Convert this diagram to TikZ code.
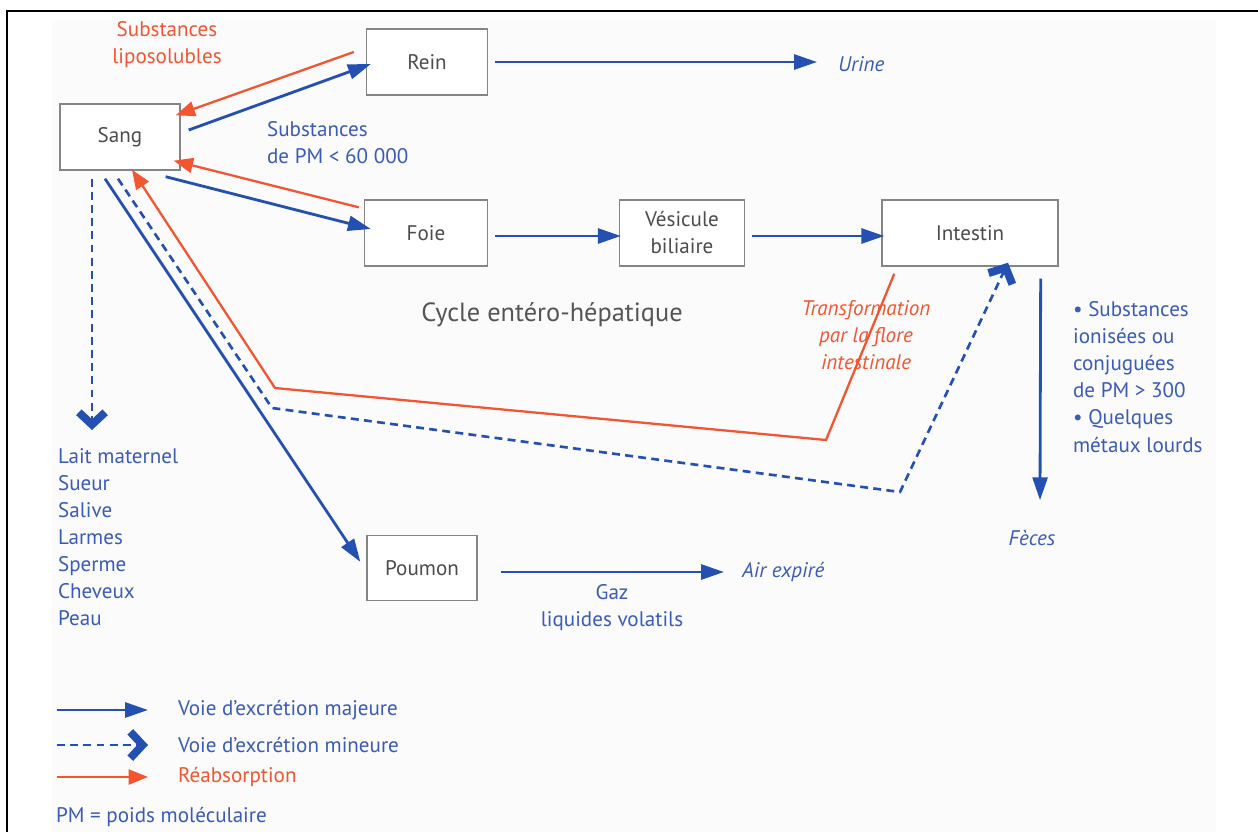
\documentclass[tikz,border=0pt]{standalone}
\usepackage{fontspec}
\setmainfont{PT Sans}
\usetikzlibrary{arrows.meta,positioning,calc}
\definecolor{Route}{HTML}{2450B2}
\definecolor{RouteText}{HTML}{3A5BB8}
\definecolor{Back}{HTML}{F2552F}
\definecolor{Frame}{HTML}{858585}
\definecolor{Paper}{HTML}{FBFBFB}
\definecolor{Caption}{HTML}{555555}

\begin{document}
\begin{tikzpicture}[x=0.02cm,y=-0.02cm,
  every node/.style={font=\fontsize{12}{15.4}\selectfont,inner sep=1pt},
  it/.style={font=\fontsize{12}{15.4}\selectfont\itshape},
  organ/.style={draw=Frame,thick,fill=white,align=center,minimum height=1.32cm,text=black!70},
  major/.style={Route,line width=1.6pt,-{Triangle[length=13pt,width=8.5pt]}},
  minor/.style={Route,line width=1.5pt,dash pattern=on 4.5pt off 3pt,-{Straight Barb[length=7pt,width=15pt,line width=4.5pt]}},
  reabs/.style={Back,line width=1.3pt,-{Triangle[length=11pt,width=8.5pt]}},
  bluetxt/.style={text=RouteText},
  redtxt/.style={text=Back}]
  \useasboundingbox (0,0) rectangle (1258,832);
  \fill[Paper] (52,20) rectangle (1216,832);
  \draw[line width=1.1pt] (1258,11) -- (7,11) -- (7,832);

  \node[organ,minimum width=2.4cm] (Sang) at (120,137) {Sang};
  \node[organ,minimum width=2.42cm] (Rein) at (427,62) {Rein};
  \node[organ,minimum width=2.46cm] (Foie) at (426,233) {Foie};
  \node[organ,minimum width=2.5cm] (Vesicule) at (682,233) {Vésicule\\biliaire};
  \node[organ,minimum width=3.52cm] (Intestin) at (970,233) {Intestin};
  \node[organ,minimum width=2.2cm,minimum height=1.3cm] (Poumon) at (422,568) {Poumon};

  \node[bluetxt,it,anchor=west] (Urine) at (836,64) {Urine};
  \node[bluetxt,it] (Feces) at (1032,538) {Fèces};
  \node[bluetxt,it,anchor=west] (Air) at (740,572) {Air expiré};
  \node[bluetxt,align=center] (gaz) at (612,608) {Gaz\\liquides volatils};
  \node[redtxt,align=center] (lipo) at (167,45) {Substances\\liposolubles};
  \node[bluetxt,align=left,anchor=west] (hydro) at (265,143) {Substances\\de PM < 60 000};
  \node[text=Caption,font=\fontsize{15}{18}\selectfont] (cycle) at (552,315) {Cycle entéro-hépatique};
  \node[redtxt,it,align=center] (flore) at (866,335) {Transformation\\par la flore\\intestinale};
  \node[bluetxt,align=left,anchor=west] (ions) at (1071,377) {• Substances\\ionisées ou\\conjuguées\\de PM > 300\\• Quelques\\métaux lourds};
  \node[bluetxt,align=left,anchor=north west] (fluids) at (56,446) {Lait maternel\\Sueur\\Salive\\Larmes\\Sperme\\Cheveux\\Peau};

  \coordinate (redBendA) at (826,440);
  \coordinate (redBendB) at (275,388);
  \coordinate (blueBendA) at (272,408);
  \coordinate (blueBendB) at (900,492);

  \draw[reabs] ($(Intestin.south west)+(13,7)$) -- (redBendA) -- (redBendB) -- ($(Sang.south)+(12,-1)$);
  \draw[minor] ($(Sang.south)+(-2,8)$) -- (blueBendA) -- (blueBendB) -- ($(Intestin.south)+(38,-4)$);
  \draw[major] ($(Sang.south)+(-15,8)$) -- ($(Poumon.north west)+(-6,27)$);
  \draw[minor] ($(Sang.south)+(-28,8)$) -- ($(fluids.north west)+(36,-16)$);

  \draw[major] ($(Sang.east)+(8,-7)$) -- ($(Rein.west)+(5,2)$);
  \draw[reabs] ($(Rein.west)+(-12,-10)$) -- ($(Sang.north east)+(-5,12)$);
  \draw[major] ($(Sang.south east)+(-15,6)$) -- ($(Foie.west)+(7,-4)$);
  \draw[reabs] ($(Foie.north west)+(-5,8)$) -- ($(Sang.south east)+(-7,-10)$);
  \draw[major] ($(Rein.east)+(7,0)$) -- ($(Urine.west)+(-19,-2)$);
  \draw[major] ($(Foie.east)+(7,3)$) -- ($(Vesicule.west)+(2,3)$);
  \draw[major] ($(Vesicule.east)+(7,3)$) -- ($(Intestin.west)+(3,3)$);
  \draw[major] ($(Intestin.south east)+(-18,12)$) -- ($(Feces.north)+(8,-28)$);
  \draw[major] ($(Poumon.east)+(23,4)$) -- ($(Air.west)+(-16,0)$);

  \foreach \y/\kind/\col/\txt in {710/major/RouteText/Voie d'excrétion majeure,745/minor/RouteText/Voie d'excrétion mineure,777/reabs/Back/Réabsorption}{
    \coordinate (from\kind) at (57,\y);
    \node[text=\col,anchor=west] (lab\kind) at (176,\y) {\txt};
    \draw[\kind] (from\kind) -- ($(lab\kind.west)+(-28,0)$);
  }
  \node[bluetxt,anchor=west] (pmnote) at (54,817) {PM = poids moléculaire};
\end{tikzpicture}
\end{document}
